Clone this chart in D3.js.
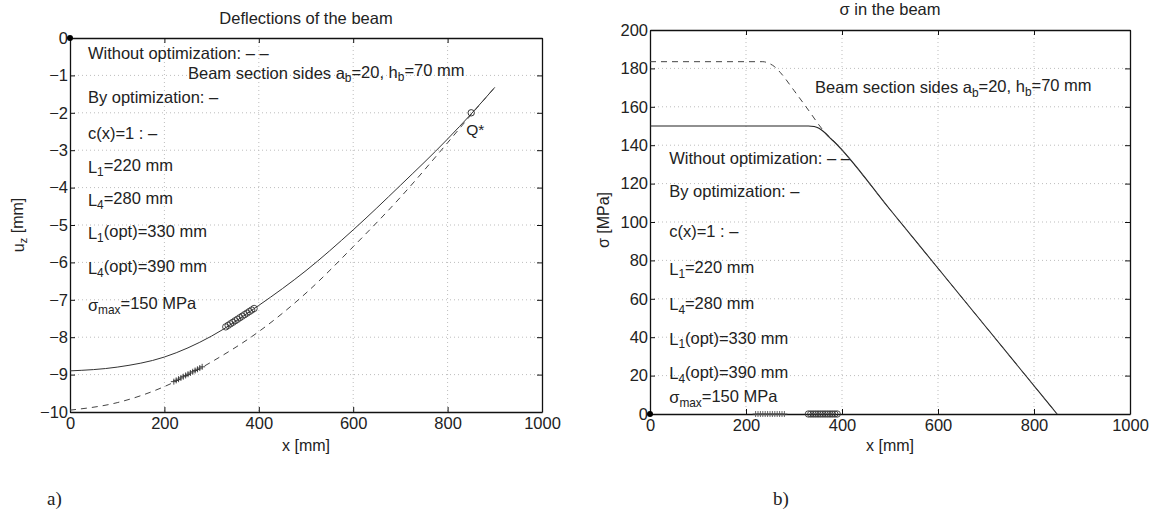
<!DOCTYPE html>
<html><head><meta charset="utf-8">
<script src="https://cdn.jsdelivr.net/npm/d3@7"></script>
<style>
body{margin:0;background:#fff;}
svg text{font-family:"Liberation Sans",Arial,Helvetica,sans-serif;fill:#222;}
</style></head>
<body><svg id="c" width="1152" height="518"></svg>
<script>
// ---------- data ----------
const xTicks = [0,200,400,600,800,1000];
const yTicksA = [0,-1,-2,-3,-4,-5,-6,-7,-8,-9,-10];
const yTicksB = [0,20,40,60,80,100,120,140,160,180,200];

// Plot a: deflections
const defOptX = [0,100,200,300,400,500,600,700,800,850,900];
const defOptY = [-8.9,-8.8,-8.53,-7.97,-7.15,-6.22,-5.13,-3.94,-2.7,-2.03,-1.32];
const defNoX  = [0,100,200,300,400,500,600,700,800,850,900];
const defNoY  = [-9.95,-9.75,-9.32,-8.66,-7.85,-6.82,-5.58,-4.26,-2.8,-2.05,-1.32];
const plusX   = [220,225,230,235,240,245,250,255,260,265,270,275,280];
const circX   = [330,335,340,345,350,355,360,365,370,375,380,385,390];
const qStarX  = 850, qStarY = -2.0;

// Plot b: stress
const sigOptX = [0,330,342,352,362,372,382,500,600,700,848];
const sigOptY = [150,150,149.7,148.8,147,144.5,142.2,106.5,75.9,45.3,0];
const sigNoX  = [0,235,248,260,271,300,330,360,385,500,600,700,848];
const sigNoY  = [183.5,183.5,182.6,180.8,178,168.5,158.3,148,141.7,106.5,75.9,45.3,0];

const notesA = ["Without optimization: – –","By optimization: –","c(x)=1 : –"];
const paramLines = [
  [["L",""],["1","sub"],["=220 mm",""]],
  [["L",""],["4","sub"],["=280 mm",""]],
  [["L",""],["1","sub"],["(opt)=330 mm",""]],
  [["L",""],["4","sub"],["(opt)=390 mm",""]],
  [["σ",""],["max","sub"],["=150 MPa",""]]
];
const beamLine = [["Beam section sides a",""],["b","sub"],["=20, h",""],["b","sub"],["=70 mm",""]];

// ---------- helpers ----------
const svg = d3.select("#c");
const FS = 16.5;

function richText(g, x, y, parts, size){
  const t = g.append("text").attr("x",x).attr("y",y).attr("dy","0.35em").style("font-size",size+"px");
  let sub=false;
  parts.forEach(([s,k])=>{
    const ts = t.append("tspan").text(s);
    if(k==="sub" && !sub){ ts.attr("dy","0.3em").style("font-size",(size*0.72)+"px"); sub=true; }
    else if(k==="sub"){ ts.style("font-size",(size*0.72)+"px"); }
    else if(sub){ ts.attr("dy","-0.3em").style("font-size",size+"px"); sub=false; }
  });
  return t;
}

function panel(opt){
  const g = svg.append("g");
  const x = d3.scaleLinear().domain([0,1000]).range([opt.x0,opt.x1]);
  const y = d3.scaleLinear().domain(opt.ydom).range([opt.y1,opt.y0]);
  // grid
  g.append("g").selectAll("line").data(xTicks.filter(v=>v>0&&v<1000)).join("line")
    .attr("x1",d=>x(d)).attr("x2",d=>x(d)).attr("y1",opt.y0).attr("y2",opt.y1)
    .attr("stroke","#bdbdbd").attr("stroke-dasharray","1,3");
  g.append("g").selectAll("line").data(opt.yticks.filter(v=>v!==opt.ydom[0]&&v!==opt.ydom[1])).join("line")
    .attr("y1",d=>y(d)).attr("y2",d=>y(d)).attr("x1",opt.x0).attr("x2",opt.x1)
    .attr("stroke","#bdbdbd").attr("stroke-dasharray","1,3");
  // axes
  const ax = (gen, tr) => { const a=g.append("g").attr("transform",tr).call(gen);
    a.select(".domain").attr("stroke","#111").attr("stroke-width",1.3);
    a.selectAll(".tick line").attr("stroke","#111");
    a.selectAll("text").style("font-size","16.5px").attr("fill","#222"); return a; };
  const fmt = d3.format("d");
  ax(d3.axisBottom(x).tickValues(xTicks).tickFormat(fmt).tickSizeInner(-5).tickSizeOuter(0).tickPadding(5), `translate(0,${opt.y1})`);
  ax(d3.axisTop(x).tickValues(xTicks).tickSizeInner(-5).tickSizeOuter(0).tickFormat(""), `translate(0,${opt.y0})`);
  ax(d3.axisLeft(y).tickValues(opt.yticks).tickFormat(d3.format("d")).tickSizeInner(-5).tickSizeOuter(0).tickPadding(2), `translate(${opt.x0},0)`);
  ax(d3.axisRight(y).tickValues(opt.yticks).tickSizeInner(-5).tickSizeOuter(0).tickFormat(""), `translate(${opt.x1},0)`);
  // labels
  g.append("text").attr("x",(opt.x0+opt.x1)/2).attr("y",opt.titleY).attr("text-anchor","middle").style("font-size","16.5px").text(opt.title);
  g.append("text").attr("x",(opt.x0+opt.x1)/2).attr("y",451).attr("text-anchor","middle").style("font-size","16px").text("x [mm]");
  return {g,x,y};
}

const line = (x,y)=>d3.line().x(d=>x(d[0])).y(d=>y(d[1])).curve(d3.curveMonotoneX);
const zip = (a,b)=>a.map((v,i)=>[v,b[i]]);

// ---------- panel a ----------
const A = panel({x0:70,x1:542,y0:38,y1:412,ydom:[-10,0],yticks:yTicksA,title:"Deflections of the beam",titleY:24});
A.g.append("text").attr("transform","translate(24,225) rotate(-90)").attr("text-anchor","middle").style("font-size","16px")
  .call(t=>{t.append("tspan").text("u");t.append("tspan").attr("dy","0.3em").style("font-size","11.5px").text("z");t.append("tspan").attr("dy","-0.3em").text(" [mm]");});
A.g.append("path").attr("d",line(A.x,A.y)(zip(defOptX,defOptY))).attr("fill","none").attr("stroke","#333").attr("stroke-width",1);
A.g.append("path").attr("d",line(A.x,A.y)(zip(defNoX,defNoY))).attr("fill","none").attr("stroke","#444").attr("stroke-width",1).attr("stroke-dasharray","6,5");
const fOpt = d3.scaleLinear().domain(defOptX).range(defOptY);
const fNo = d3.scaleLinear().domain(defNoX).range(defNoY);
A.g.append("g").selectAll("circle").data(circX).join("circle").attr("cx",d=>A.x(d)).attr("cy",d=>A.y(fOpt(d)))
  .attr("r",3.2).attr("fill","none").attr("stroke","#333").attr("stroke-width",0.9);
A.g.append("g").selectAll("path").data(plusX).join("path")
  .attr("d",d=>{const cx=A.x(d),cy=A.y(fNo(d));return `M${cx-3},${cy}H${cx+3}M${cx},${cy-3}V${cy+3}`;})
  .attr("stroke","#333").attr("stroke-width",0.9);
A.g.append("circle").attr("cx",A.x(qStarX)).attr("cy",A.y(qStarY)).attr("r",3.2).attr("fill","none").attr("stroke","#333");
A.g.append("text").attr("x",A.x(qStarX)-5).attr("y",A.y(qStarY)+22).style("font-size","15.5px").text("Q*");
A.g.append("circle").attr("cx",A.x(0)).attr("cy",A.y(0)).attr("r",3).attr("fill","#000");
{
  const xs = A.x(38);
  const ys = [-0.40,-1.58,-2.54];
  notesA.forEach((s,i)=>richText(A.g,xs,A.y(ys[i]),[[s,""]],FS));
  const yp = [-3.45,-4.33,-5.21,-6.15,-7.14];
  paramLines.forEach((p,i)=>richText(A.g,xs,A.y(yp[i]),p,FS));
  richText(A.g,A.x(250),A.y(-0.94),beamLine,FS);
}

// ---------- panel b ----------
const B = panel({x0:650,x1:1130,y0:30,y1:414,ydom:[0,200],yticks:yTicksB,title:"σ in the beam",titleY:15});
B.g.append("text").attr("transform","translate(609,220) rotate(-90)").attr("text-anchor","middle").style("font-size","16px").text("σ [MPa]");
B.g.append("path").attr("d",line(B.x,B.y)(zip(sigOptX,sigOptY))).attr("fill","none").attr("stroke","#222").attr("stroke-width",1.1);
B.g.append("path").attr("d",line(B.x,B.y)(zip(sigNoX,sigNoY))).attr("fill","none").attr("stroke","#444").attr("stroke-width",1).attr("stroke-dasharray","6,5");
B.g.append("g").selectAll("circle").data(circX).join("circle").attr("cx",d=>B.x(d)).attr("cy",B.y(0))
  .attr("r",3.2).attr("fill","none").attr("stroke","#333").attr("stroke-width",0.9);
B.g.append("g").selectAll("path").data(plusX).join("path")
  .attr("d",d=>{const cx=B.x(d),cy=B.y(0);return `M${cx-3},${cy}H${cx+3}M${cx},${cy-3}V${cy+3}`;})
  .attr("stroke","#555").attr("stroke-width",0.9);
B.g.append("circle").attr("cx",B.x(0)).attr("cy",B.y(0)).attr("r",3).attr("fill","#000");
{
  const xs = B.x(40);
  const ys = [133,116,95];
  notesA.forEach((s,i)=>richText(B.g,xs,B.y(ys[i]),[[s,""]],FS));
  const yp = [75.5,57,39,21,8.5];
  paramLines.forEach((p,i)=>richText(B.g,xs,B.y(yp[i]),p,FS));
  richText(B.g,B.x(344),B.y(170),beamLine,FS);
}

// panel captions
svg.append("text").attr("x",47).attr("y",505).style("font-family","'Liberation Serif','Times New Roman',serif").style("font-size","19px").text("a)");
svg.append("text").attr("x",773).attr("y",505).style("font-family","'Liberation Serif','Times New Roman',serif").style("font-size","19px").text("b)");
</script></body></html>
